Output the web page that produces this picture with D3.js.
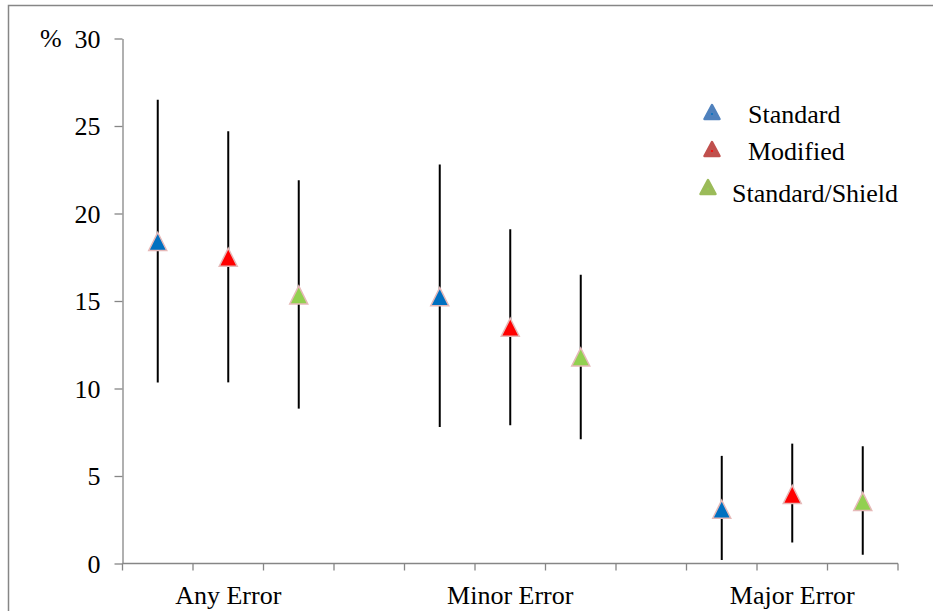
<!DOCTYPE html>
<html>
<head>
<meta charset="utf-8">
<script src="https://cdn.jsdelivr.net/npm/d3@7"></script>
<style>
    body { margin: 0; background: #fff; }
    svg { display: block; }
    .axis path, .axis line { stroke: #868686; stroke-width: 1.3; }
    .bar { stroke: #000; stroke-width: 2; }
    .marker { stroke: #e6b9b8; stroke-width: 1.5; }
</style>
</head>
<body>
<svg width="933" height="611"></svg>
<script>
// 11 slots on the x axis, groups of three with an empty slot between them
const slots = ["a1", "a2", "a3", "g1", "b1", "b2", "b3", "g2", "c1", "c2", "c3"]
const groupLabels = { a2: "Any Error", b2: "Minor Error", c2: "Major Error" }

const series = ["Standard", "Modified", "Standard/Shield"]
const seriesSlots = {
    "Standard": ["a1", "b1", "c1"],
    "Modified": ["a2", "b2", "c2"],
    "Standard/Shield": ["a3", "b3", "c3"]
}
const values = {
    "Standard": [18.4, 15.25, 3.1],
    "Modified": [17.5, 13.5, 3.95],
    "Standard/Shield": [15.35, 11.8, 3.55]
}
const upper = {
    "Standard": [26.5, 22.8, 6.15],
    "Modified": [24.7, 19.1, 6.85],
    "Standard/Shield": [21.9, 16.5, 6.7]
}
const lower = {
    "Standard": [10.35, 7.8, 0.2],
    "Modified": [10.35, 7.9, 1.2],
    "Standard/Shield": [8.85, 7.1, 0.5]
}
const yTicks = [0, 5, 10, 15, 20, 25, 30]

const markerColors = { "Standard": "#0070c0", "Modified": "#ff0000", "Standard/Shield": "#92d050" }
const legendColors = { "Standard": "#4f81bd", "Modified": "#c0504d", "Standard/Shield": "#9bbb59" }

const FONT = "Liberation Serif, Times New Roman, serif"

const svg = d3.select("svg")

// outer frame (only top and left visible)
svg.append("path")
    .attr("d", "M8.5,611 L8.5,5.5 L933,5.5")
    .attr("fill", "none")
    .attr("stroke", "#868686")
    .attr("stroke-width", 1.5)

const xScale = d3.scaleBand()
    .domain(slots)
    .range([122.5, 898])

const yScale = d3.scaleLinear()
    .domain([0, 30])
    .range([563.5, 38.5])

// y axis
const yAxis = svg.append("g")
    .attr("class", "axis")
    .attr("transform", "translate(122.5,0)")
    .call(d3.axisLeft(yScale).tickValues(yTicks).tickSize(8).tickPadding(14).tickSizeOuter(0))
yAxis.attr("font-family", FONT).attr("font-size", 26)
yAxis.selectAll("text").attr("dy", "0.34em").attr("fill", "#000")

svg.append("text")
    .attr("x", 40)
    .attr("y", 47)
    .attr("font-family", FONT)
    .attr("font-size", 26)
    .text("%")

// x axis: ticks on slot boundaries
const boundaries = slots.map(s => xScale(s)).concat([xScale.range()[1]])
const xAxis = svg.append("g")
    .attr("class", "axis")

xAxis.append("line")
    .attr("x1", xScale.range()[0])
    .attr("x2", xScale.range()[1])
    .attr("y1", yScale(0))
    .attr("y2", yScale(0))

xAxis.selectAll("line.tick")
    .data(boundaries)
    .enter()
    .append("line")
    .attr("class", "tick")
    .attr("x1", d => d)
    .attr("x2", d => d)
    .attr("y1", yScale(0))
    .attr("y2", yScale(0) + 7)

xAxis.selectAll("text")
    .data(Object.keys(groupLabels))
    .enter()
    .append("text")
    .attr("x", d => xScale(d) + xScale.bandwidth() / 2)
    .attr("y", 604)
    .attr("text-anchor", "middle")
    .attr("font-family", FONT)
    .attr("font-size", 26)
    .text(d => groupLabels[d])

// triangle centred on its bounding box
const triangle = (cx, cy, w, h) =>
    `M${cx},${cy - h / 2} L${cx + w / 2},${cy + h / 2} L${cx - w / 2},${cy + h / 2} Z`

const points = []
series.forEach(s => {
    seriesSlots[s].forEach((slot, i) => {
        points.push({ series: s, slot: slot, value: values[s][i], hi: upper[s][i], lo: lower[s][i] })
    })
})

const groups = svg.selectAll("g.point")
    .data(points)
    .enter()
    .append("g")
    .attr("class", "point")
    .attr("transform", d => `translate(${xScale(d.slot) + xScale.bandwidth() / 2},0)`)

groups.append("line")
    .attr("class", "bar")
    .attr("x1", 0)
    .attr("x2", 0)
    .attr("y1", d => yScale(d.hi))
    .attr("y2", d => yScale(d.lo))

groups.append("path")
    .attr("class", "marker")
    .attr("d", d => triangle(0, yScale(d.value), 18, 18))
    .attr("fill", d => markerColors[d.series])

// legend
const legendItems = [
    { name: "Standard", mx: 712, my: 112, tx: 748, ty: 123 },
    { name: "Modified", mx: 712, my: 149, tx: 748, ty: 160 },
    { name: "Standard/Shield", mx: 708, my: 187, tx: 732, ty: 202 }
]

const legend = svg.selectAll("g.legend")
    .data(legendItems)
    .enter()
    .append("g")
    .attr("class", "legend")

legend.append("path")
    .attr("d", d => triangle(d.mx, d.my, 15, 14))
    .attr("fill", d => legendColors[d.name])
    .attr("stroke", d => legendColors[d.name])
    .attr("stroke-width", 2.5)
    .attr("stroke-linejoin", "round")

legend.append("circle")
    .attr("cx", d => d.mx)
    .attr("cy", d => d.my + 2)
    .attr("r", 1)
    .attr("fill", d => markerColors[d.name])

legend.append("text")
    .attr("x", d => d.tx)
    .attr("y", d => d.ty)
    .attr("font-family", FONT)
    .attr("font-size", 26)
    .attr("fill", "#000")
    .text(d => d.name)
</script>
</body>
</html>
